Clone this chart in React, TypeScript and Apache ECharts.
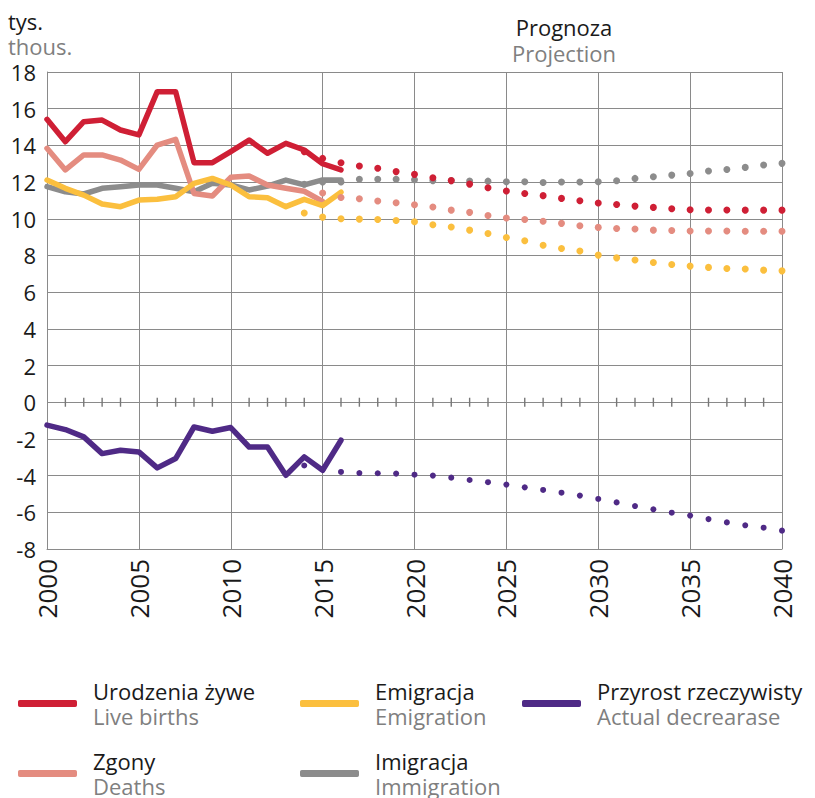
import React, { useEffect, useRef } from "react";
import * as echarts from "echarts";

const histYears = [2000, 2001, 2002, 2003, 2004, 2005, 2006, 2007, 2008, 2009, 2010, 2011, 2012, 2013, 2014, 2015, 2016];
const projYears = [2014, 2015, 2016, 2017, 2018, 2019, 2020, 2021, 2022, 2023, 2024, 2025, 2026, 2027, 2028, 2029, 2030, 2031, 2032, 2033, 2034, 2035, 2036, 2037, 2038, 2039, 2040];

const birthsHist = [15.42, 14.2, 15.29, 15.38, 14.84, 14.57, 16.93, 16.93, 13.06, 13.06, 13.66, 14.29, 13.57, 14.11, 13.75, 13.0, 12.66];
const deathsHist = [13.84, 12.66, 13.48, 13.48, 13.2, 12.69, 14.02, 14.33, 11.38, 11.24, 12.26, 12.33, 11.84, 11.66, 11.5, 10.95, null];
const emigHist = [12.11, 11.66, 11.29, 10.8, 10.66, 11.02, 11.06, 11.2, 11.93, 12.2, 11.84, 11.2, 11.15, 10.66, 11.06, 10.72, 11.45];
const immigHist = [11.75, 11.47, 11.35, 11.66, 11.75, 11.84, 11.84, 11.66, 11.47, 11.93, 11.84, 11.57, 11.78, 12.11, 11.85, 12.12, 12.12];
const decreaseHist = [-1.25, -1.49, -1.89, -2.8, -2.62, -2.71, -3.58, -3.07, -1.35, -1.58, -1.38, -2.44, -2.44, -3.98, -2.98, -3.71, -2.07];

const birthsProj = [13.66, 13.29, 13.05, 12.88, 12.75, 12.57, 12.42, 12.24, 12.08, 11.89, 11.69, 11.51, 11.38, 11.26, 11.11, 10.98, 10.86, 10.78, 10.69, 10.62, 10.55, 10.49, 10.48, 10.48, 10.47, 10.47, 10.47];
const deathsProj = [null, 11.4, 11.16, 11.09, 10.97, 10.87, 10.76, 10.64, 10.47, 10.35, 10.18, 10.04, 9.96, 9.86, 9.75, 9.62, 9.53, 9.47, 9.44, 9.38, 9.36, 9.33, 9.33, 9.33, 9.32, 9.32, 9.32];
const emigProj = [10.31, 10.09, 10.0, 9.98, 9.96, 9.91, 9.84, 9.67, 9.55, 9.38, 9.2, 8.98, 8.8, 8.56, 8.38, 8.24, 8.02, 7.87, 7.75, 7.62, 7.51, 7.42, 7.35, 7.29, 7.26, 7.2, 7.16];
const immigProj = [11.88, 12.0, 12.0, 12.15, 12.15, 12.15, 12.13, 12.08, 12.08, 12.06, 12.05, 12.02, 12.02, 11.98, 12.0, 12.0, 12.02, 12.07, 12.2, 12.29, 12.38, 12.47, 12.6, 12.69, 12.8, 12.93, 13.02];
const decreaseProj = [-3.45, -3.65, -3.8, -3.86, -3.87, -3.89, -3.95, -4.0, -4.11, -4.24, -4.36, -4.49, -4.64, -4.78, -4.93, -5.09, -5.27, -5.46, -5.66, -5.84, -6.02, -6.18, -6.37, -6.55, -6.71, -6.84, -7.0];

const seriesNames = ["Urodzenia żywe", "Zgony", "Emigracja", "Imigracja", "Przyrost rzeczywisty"];
const seriesNamesEn = ["Live births", "Deaths", "Emigration", "Immigration", "Actual decrearase"];
const yearTicks = [2000, 2005, 2010, 2015, 2020, 2025, 2030, 2035, 2040];
const minorTickYears = [
  2001, 2002, 2003, 2004, 2006, 2007, 2008, 2009, 2011, 2012, 2013, 2014, 2016, 2017, 2018, 2019,
  2021, 2022, 2023, 2024, 2026, 2027, 2028, 2029, 2031, 2032, 2033, 2034, 2036, 2037, 2038, 2039,
];
const minorTickValues = minorTickYears.map(() => 0);

const COLORS: Record<string, string> = {
  "Urodzenia żywe": "#cf1f35",
  "Zgony": "#e48c80",
  "Emigracja": "#fbbf3e",
  "Imigracja": "#8c8c8c",
  "Przyrost rzeczywisty": "#4f2a86",
};

const FONT = "'Open Sans', 'Noto Sans', sans-serif";
const GRID_COLOR = "#8a8a8a";

function pairs(xs: number[], ys: (number | null)[]) {
  return xs.map((x, i) => [x, ys[i] == null ? null : ys[i]]);
}

export default function App() {
  const ref = useRef<HTMLDivElement>(null);

  useEffect(() => {
    document.body.style.margin = "0";
    if (!ref.current) return;
    const chart = echarts.init(ref.current, null, { renderer: "svg" });

    const hist: Record<string, (number | null)[]> = {
      "Urodzenia żywe": birthsHist,
      "Zgony": deathsHist,
      "Emigracja": emigHist,
      "Imigracja": immigHist,
      "Przyrost rzeczywisty": decreaseHist,
    };
    const proj: Record<string, (number | null)[]> = {
      "Urodzenia żywe": birthsProj,
      "Zgony": deathsProj,
      "Emigracja": emigProj,
      "Imigracja": immigProj,
      "Przyrost rzeczywisty": decreaseProj,
    };
    const drawOrder = ["Imigracja", "Zgony", "Emigracja", "Urodzenia żywe", "Przyrost rzeczywisty"];

    const series: any[] = [];
    drawOrder.forEach((name, i) => {
      series.push({
        name,
        type: "line",
        data: pairs(histYears, hist[name]),
        showSymbol: false,
        symbol: "none",
        z: 3 + i,
        lineStyle: { color: COLORS[name], width: 5.5, cap: "round", join: "round" },
        itemStyle: { color: COLORS[name] },
      });
    });
    drawOrder.forEach((name, i) => {
      series.push({
        name,
        type: "line",
        data: pairs(projYears, proj[name]),
        showSymbol: true,
        showAllSymbol: true,
        symbol: "circle",
        symbolSize: name === "Przyrost rzeczywisty" ? 6 : 7,
        z: 10 + i,
        lineStyle: { width: 0, opacity: 0 },
        itemStyle: { color: COLORS[name] },
      });
    });
    series.push({
      name: "Podziałka",
      type: "scatter",
      silent: true,
      z: 20,
      symbol: "rect",
      symbolSize: [1.4, 9],
      itemStyle: { color: "#777777", opacity: 1 },
      data: pairs(minorTickYears, minorTickValues),
    });

    const legendPos: Record<string, [number, number]> = {
      "Urodzenia żywe": [18, 680],
      "Emigracja": [300, 680],
      "Przyrost rzeczywisty": [522, 680],
      "Zgony": [18, 750],
      "Imigracja": [300, 750],
    };
    const legends = seriesNames.map((name) => ({
      data: [name],
      left: legendPos[name][0],
      top: legendPos[name][1],
      padding: 0,
      itemWidth: 59,
      itemHeight: 7,
      icon: "roundRect",
      formatter: (n: string) => `{a|${n}}\n{b|${seriesNamesEn[seriesNames.indexOf(n)]}}`,
      textStyle: {
        fontFamily: FONT,
        rich: {
          a: { fontSize: 22, color: "#1a1a1a", lineHeight: 25, fontFamily: FONT, padding: [0, 0, 0, 11] },
          b: { fontSize: 22, color: "#7f7f7f", lineHeight: 25, fontFamily: FONT, padding: [0, 0, 0, 11] },
        },
      },
    }));

    const option: any = {
      animation: false,
      textStyle: { fontFamily: FONT },
      grid: { left: 47, right: 33, top: 72, bottom: 249 },
      legend: legends,
      xAxis: {
        type: "value",
        min: yearTicks[0],
        max: yearTicks[yearTicks.length - 1],
        interval: 5,
        position: "bottom",
        axisLine: { show: true, onZero: false, lineStyle: { color: GRID_COLOR, width: 1 } },
        axisTick: { show: false },
        axisLabel: {
          rotate: 90,
          fontSize: 26,
          color: "#1a1a1a",
          margin: 10,
          fontFamily: FONT,
          formatter: (v: number) => String(v),
        },
        splitLine: { show: true, lineStyle: { color: GRID_COLOR, width: 1 } },
      },
      yAxis: {
        type: "value",
        min: -8,
        max: 18,
        interval: 2,
        axisLine: { show: true, onZero: false, lineStyle: { color: GRID_COLOR, width: 1 } },
        axisTick: { show: false },
        axisLabel: { fontSize: 22, color: "#1a1a1a", margin: 11, fontFamily: FONT },
        splitLine: { show: true, lineStyle: { color: GRID_COLOR, width: 1 } },
      },
      graphic: [
        { type: "text", x: 8, y: 21, style: { text: "tys.", font: `22px ${FONT}`, fill: "#1a1a1a", verticalAlign: "middle", lineHeight: 22 } },
        { type: "text", x: 8, y: 46, style: { text: "thous.", font: `22px ${FONT}`, fill: "#7f7f7f", verticalAlign: "middle", lineHeight: 22 } },
        { type: "text", x: 564, y: 27, style: { text: "Prognoza", font: `22px ${FONT}`, fill: "#1a1a1a", align: "center", verticalAlign: "middle", lineHeight: 22 } },
        { type: "text", x: 564, y: 53, style: { text: "Projection", font: `22px ${FONT}`, fill: "#7f7f7f", align: "center", verticalAlign: "middle", lineHeight: 22 } },
      ],
      series,
    };

    chart.setOption(option);
    return () => chart.dispose();
  }, []);

  return <div ref={ref} style={{ width: 815, height: 798 }} />;
}
